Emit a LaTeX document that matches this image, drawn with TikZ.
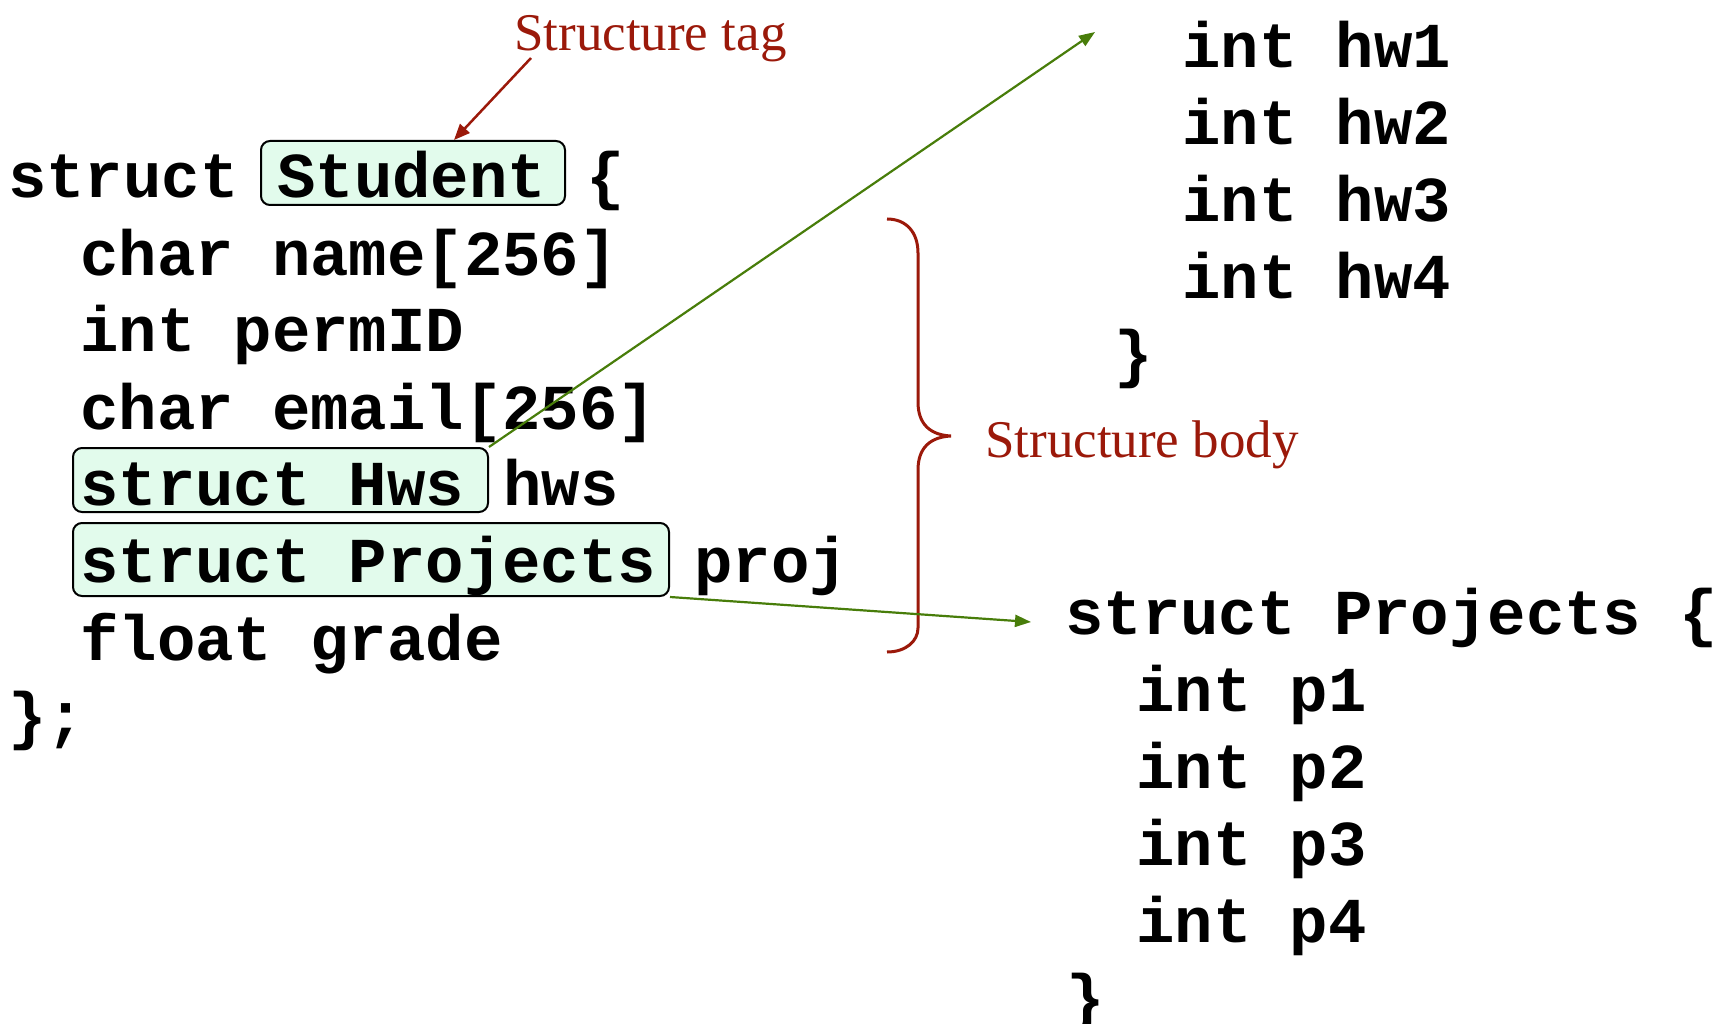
\documentclass[tikz,border=0pt]{standalone}
\usepackage{fontspec}
\setmainfont{Liberation Serif}
\setmonofont{Liberation Mono}
\usetikzlibrary{arrows.meta}
\definecolor{tagred}{RGB}{155,25,10}
\definecolor{arrowgreen}{RGB}{72,125,10}
\definecolor{boxfill}{RGB}{226,251,236}
\begin{document}
\begin{tikzpicture}[x=1pt,y=-1pt,
  code/.style={anchor=base west, inner sep=0pt, font=\ttfamily\bfseries\fontsize{64}{77}\selectfont},
  lab/.style={anchor=base west, inner sep=0pt, text=tagred, font=\fontsize{53}{60}\selectfont},
  tagbox/.style={draw=black, line width=2pt, fill=boxfill, rounded corners=9pt, anchor=north west, inner sep=0pt},
  redarrow/.style={draw=tagred, line width=2.5pt, -{Triangle[length=16pt,width=13pt]}},
  greenarrow/.style={draw=arrowgreen, line width=2.2pt, -{Triangle[length=16pt,width=12pt]}},
  bracestyle/.style={draw=tagred, line width=3pt}
]
\useasboundingbox (0,0) rectangle (1733,1024);

% highlight boxes
\node[tagbox, minimum width=304pt, minimum height=64pt] (student) at (260,140) {};
\node[tagbox, minimum width=415pt, minimum height=64pt] (hwsbox) at (72,447) {};
\node[tagbox, minimum width=596pt, minimum height=73pt] (projbox) at (72,522) {};

% left code
\node[code] (s1a) at (8,198) {struct};
\node[code] (s1b) at (277,198) {Student};
\node[code] (s1c) at (586,198) {\{};
\node[code] (s2) at (80,276) {char name[256]};
\node[code] (s3) at (80,352) {int permID};
\node[code] (s4) at (80,429) {char email[256]};
\node[code] (s5a) at (80,505) {struct Hws};
\node[code] (s5b) at (503,505) {hws};
\node[code] (s6a) at (80,582) {struct Projects};
\node[code] (s6b) at (694,582) {proj};
\node[code] (s7) at (80,660) {float grade};
\node[code] (s8) at (8,737) {\};};

% Hws body (top right)
\node[code] (h1) at (1182,68) {int hw1};
\node[code] (h2) at (1182,145) {int hw2};
\node[code] (h3) at (1182,222) {int hw3};
\node[code] (h4) at (1182,299) {int hw4};
\node[code] (h5) at (1114,376) {\}};

% Projects struct (bottom right)
\node[code] (p0) at (1065,634) {struct Projects \{};
\node[code] (p1) at (1136,711) {int p1};
\node[code] (p2) at (1136,788) {int p2};
\node[code] (p3) at (1136,865) {int p3};
\node[code] (p4) at (1136,942) {int p4};
\node[code] (p5) at (1066,1019) {\}};

% labels
\node[lab] (tag) at (514,51) {Structure tag};
\node[lab] (body) at (985,457) {Structure body};

% brace
\draw[bracestyle] (887,219) .. controls (906,219) and (918,232) .. (918,253)
  -- (918,402) .. controls (918,424) and (930,435) .. (951,436)
  .. controls (930,437) and (918,448) .. (918,470)
  -- (918,628) .. controls (918,641) and (906,652) .. (887,652);

% connectors
\coordinate (tagstart) at (531,58);
\coordinate (hwsend) at (1095,32);
\coordinate (projend) at (1031,622);
\draw[redarrow] (tagstart) -- ([xshift=41pt]student.north);
\draw[greenarrow] (hwsbox.north east) -- (hwsend);
\draw[greenarrow] (projbox.south east) -- (projend);
\end{tikzpicture}
\end{document}
